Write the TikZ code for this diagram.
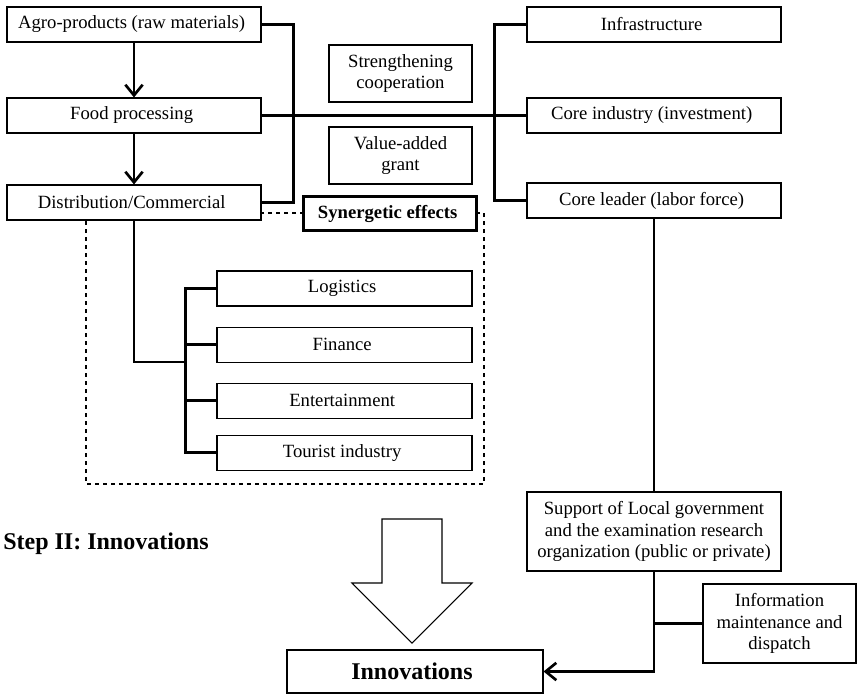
\documentclass[tikz,border=0pt]{standalone}
\usepackage{fontspec}
\setmainfont{Liberation Serif}
\usetikzlibrary{positioning,arrows.meta}

\begin{document}
\begin{tikzpicture}[x=0.75pt, y=-0.75pt,
	font=\fontsize{14}{16}\selectfont,
	block/.style = { rectangle, draw=black, line width=0.8pt, fill=white,
	inner sep=0pt, align=center, minimum width=190.5pt, minimum height=26.25pt},
	small/.style = { block, minimum width=107.25pt, minimum height=42.75pt},
	link/.style = { line width=2.2pt },
	flow/.style = { link, -{Straight Barb[length=8pt, width=13pt, line width=2pt]} } ]

  \useasboundingbox (0,0) rectangle (857,694);

  \draw [dashed, line width=0.8pt] (86,213) rectangle (484,484);

  \node [name=agro, block] at (134,24.5) { Agro-products (raw materials) };
  \node [name=food, block] at (134,115.5) { Food processing };
  \node [name=dist, block] at (134,202.5) { Distribution/Commercial };
  \node [name=infra, block] at (654,24.5) { Infrastructure };
  \node [name=coreind, block] at (654,115.5) { Core industry (investment) };
  \node [name=leader, block] at (654,200.5) { Core leader (labor force) };
  \node [name=coop, small] at (400.5,73.5)
	{ Strengthening\\cooperation };
  \node [name=grant, small] at (400.5,155.5)
	{ Value-added\\grant };
  \node [name=synergy, block, line width=2.2pt, minimum width=130pt,
	minimum height=26pt, font=\fontsize{14}{16}\selectfont\bfseries]
	at (390,213.5) { Synergetic effects };
  \node [name=logis, block, minimum width=191.25pt] at (344.5,288.5) { Logistics };
  \node [name=fin, block, minimum width=191.25pt, below=15pt of logis] { Finance };
  \node [name=ent, block, minimum width=191.25pt, below=15pt of fin] { Entertainment };
  \node [name=tour, block, minimum width=191.25pt, below=12pt of ent] { Tourist industry };
  \node [name=support, block, minimum height=59.25pt] at (654,531.5)
	{ Support of Local government\\and the examination research\\organization (public or private) };
  \node [name=info, block, minimum width=114.75pt, minimum height=59.25pt]
	at (779.5,623.5) { Information\\maintenance and\\dispatch };
  \node [name=innov, block, minimum width=192pt, minimum height=32.25pt,
	font=\fontsize{18}{20}\selectfont\bfseries] at (415,671.5) { Innovations };
  \node [name=step, anchor=west, inner sep=0pt,
	font=\fontsize{18}{20}\selectfont\bfseries] at (3,544) { Step II: Innovations };

  \coordinate (junc) at (186,362);

  \draw [flow] (agro) -- (food);
  \draw [flow] (food) -- (dist);
  \draw [link] (agro.east) -- ++(32,0) |- (dist.east);
  \draw [link] (infra.west) -- ++(-32,0) |- (leader.west);
  \draw [link] (food.east) -- (coreind.west);
  \draw [link] (dist.south) |- (junc);
  \draw [link] (logis.west) -- ++(-31,0) |- (tour.west);
  \draw [link] (fin.west) -- ++(-31,0);
  \draw [link] (ent.west) -- ++(-31,0);
  \draw [link] (leader) -- (support);
  \draw [flow] (support.south) |- (innov.east);
  \draw [link] (info.west) -- (info.west -| support.south);

  \draw [line width=0.8pt, fill=white] (382,519) -- (442,519) -- (442,583)
	-- (472,583) -- (412,643) -- (352,583) -- (382,583) -- cycle;
\end{tikzpicture}
\end{document}
